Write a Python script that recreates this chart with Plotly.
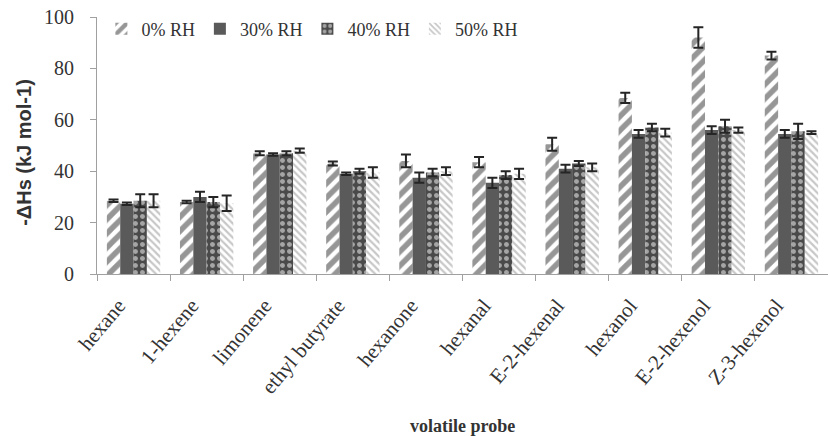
import plotly.graph_objects as go

# Volatile probes on the x axis
probes = ["hexane", "1-hexene", "limonene", "ethyl butyrate", "hexanone",
          "hexanal", "E-2-hexenal", "hexanol", "E-2-hexenol", "Z-3-hexenol"]

# -ΔHs (kJ mol-1) at each relative humidity, with error bars
rh0 = [28.5, 28.0, 47.0, 43.0, 44.0, 43.5, 50.5, 68.5, 92.0, 85.0]
rh0_err = [0.5, 0.5, 0.8, 0.8, 2.5, 2.0, 2.5, 2.0, 4.0, 1.5]
rh30 = [27.3, 30.0, 46.5, 39.0, 37.5, 35.5, 41.0, 54.5, 56.0, 54.5]
rh30_err = [0.5, 2.0, 0.5, 0.5, 2.0, 2.0, 1.5, 1.5, 1.5, 1.5]
rh40 = [28.5, 28.0, 47.0, 40.0, 39.5, 38.5, 43.0, 57.0, 57.5, 55.5]
rh40_err = [2.5, 2.0, 0.8, 1.0, 1.5, 1.5, 1.0, 1.5, 2.5, 3.0]
rh50 = [28.5, 27.5, 48.0, 39.5, 40.0, 39.0, 41.5, 55.0, 56.0, 55.0]
rh50_err = [2.5, 3.0, 0.8, 2.0, 1.5, 2.0, 1.5, 1.5, 1.0, 0.5]

series_names = ["0% RH", "30% RH", "40% RH", "50% RH"]

SERIF = "Liberation Serif, Times New Roman, serif"
SANS = "Liberation Sans, Arial, sans-serif"

patterns = [
    dict(shape="/", fgcolor="#2e2e2e", bgcolor="white", size=10, solidity=0.55),
    dict(shape="", fgcolor="#5a5a5a", bgcolor="#5a5a5a"),
    dict(shape=".", fgcolor="white", bgcolor="#4a4a4a", size=7, solidity=0.4),
    dict(shape="\\", fgcolor="#909090", bgcolor="white", size=5, solidity=0.45),
]
fills = ["white", "#5a5a5a", "#4a4a4a", "white"]

fig = go.Figure()
for name, vals, errs, pat, fill in zip(
        series_names, [rh0, rh30, rh40, rh50],
        [rh0_err, rh30_err, rh40_err, rh50_err], patterns, fills):
    fig.add_trace(go.Bar(
        name=name, x=probes, y=vals,
        marker=dict(color=fill, pattern=pat, line=dict(width=0)),
        error_y=dict(type="data", array=errs, visible=True,
                     color="#252525", thickness=2, width=5),
    ))

fig.update_layout(
    width=828, height=436,
    margin=dict(l=97, r=0, t=17, b=162),
    paper_bgcolor="white", plot_bgcolor="white",
    barmode="group", bargap=0.27, bargroupgap=0.0,
    showlegend=True,
    legend=dict(orientation="h", x=0.006, y=1.025, xanchor="left", yanchor="top",
                font=dict(family=SERIF, size=18, color="#333"),
                bgcolor="rgba(0,0,0,0)", itemwidth=30, tracegroupgap=0),
    font=dict(family=SERIF, color="#333"),
)

fig.update_yaxes(
    range=[0, 100], dtick=20, showgrid=False, zeroline=False,
    showline=True, linecolor="#a0a0a0", linewidth=1,
    ticks="outside", ticklen=6, tickcolor="#a0a0a0", ticklabelstandoff=12,
    tickfont=dict(family=SERIF, size=20, color="#333"),
)
fig.update_xaxes(
    showgrid=False, showline=True, linecolor="#a0a0a0", linewidth=1,
    ticks="outside", ticklen=6, tickcolor="#a0a0a0", tickson="boundaries",
    tickangle=-50, ticklabelstandoff=10, ticklabelshift=-15,
    tickfont=dict(family=SERIF, size=21, color="#333"),
)

fig.add_annotation(text="-ΔHs (kJ mol-1)", xref="paper", yref="paper",
                   x=-0.1, y=0.475, textangle=-90, showarrow=False,
                   xanchor="center", yanchor="middle",
                   font=dict(family=SANS, size=20, color="#333", weight="bold"))
fig.add_annotation(text="<b>volatile probe</b>", xref="paper", yref="paper",
                   x=0.5, y=-0.59, showarrow=False,
                   xanchor="center", yanchor="middle",
                   font=dict(family=SERIF, size=18, color="#333"))

fig.write_html("out.html")
